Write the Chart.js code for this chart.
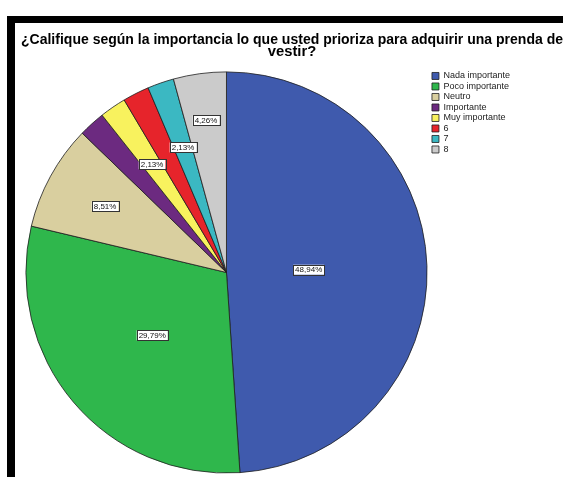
<!DOCTYPE html>
<html>
<head>
<meta charset="utf-8">
<script src="https://cdn.jsdelivr.net/npm/chart.js@4"></script>
<style>
  body { margin: 0; background: #fff; width: 563px; height: 477px; overflow: hidden; position: relative; }
  #frameLeft { position: absolute; left: 7px; top: 16px; width: 8px; height: 461px; background: #000; }
  #frameTop { position: absolute; left: 7px; top: 16px; width: 556px; height: 7px; background: #000; }
  #wrap { position: absolute; left: 15px; top: 23px; }
</style>
</head>
<body>
<div id="frameLeft"></div>
<div id="frameTop"></div>
<div id="wrap"><canvas id="pieChart" width="548" height="454"></canvas></div>
<script>
// Categorie e percentuali
const categories = ['Nada importante', 'Poco importante', 'Neutro', 'Importante', 'Muy importante', '6', '7', '8'];
const percents = [48.94, 29.79, 8.51, 2.13, 2.13, 2.13, 2.13, 4.26];
const sliceLabels = ['48,94%', '29,79%', '8,51%', null, '2,13%', null, '2,13%', '4,26%'];

const colors = ['#3f5aad', '#2fb74c', '#d9cf9f', '#6c2a80', '#f8f25e', '#e6242b', '#3bb8c2', '#cbcbcb'];
// distanza delle etichette dal centro (frazione del raggio)
const labelDist = [0.41, 0.485, 0.69, 0, 0.655, 0, 0.66, 0.765];

const FONT = "'Liberation Sans', Arial, sans-serif";

// Etichette in riquadro bianco sopra le fette
const boxLabels = {
  id: 'boxLabels',
  afterLayout(chart) {
    // titolo centrato su tutta la larghezza, legenda un po' più a destra
    const t = chart.titleBlock;
    t.left = 6; t.right = chart.width; t.width = t.right - t.left;
    chart.legend.left += 3; chart.legend.right += 3;
    chart.legend.top -= 1.5; chart.legend.bottom -= 1.5;
  },
  afterDatasetsDraw(chart) {
    const ctx = chart.ctx;
    const arcs = chart.getDatasetMeta(0).data;
    ctx.save();
    ctx.font = '8px ' + FONT;
    ctx.textAlign = 'center';
    ctx.textBaseline = 'middle';
    arcs.forEach((arc, i) => {
      if (!sliceLabels[i]) return;
      const mid = (arc.startAngle + arc.endAngle) / 2;
      const r = arc.outerRadius * labelDist[i];
      const x = arc.x + Math.cos(mid) * r;
      const y = arc.y + Math.sin(mid) * r;
      const w = ctx.measureText(sliceLabels[i]).width + 4;
      const h = 10;
      ctx.fillStyle = '#fff';
      ctx.fillRect(x - w / 2, y - h / 2, w, h);
      ctx.strokeStyle = '#333';
      ctx.lineWidth = 1;
      ctx.strokeRect(Math.round(x - w / 2) + 0.5, Math.round(y - h / 2) + 0.5, Math.round(w), h);
      ctx.fillStyle = '#111';
      ctx.fillText(sliceLabels[i], x, y + 0.5);
    });
    ctx.restore();
  }
};

const ctx = document.getElementById('pieChart').getContext('2d');
const pieChart = new Chart(ctx, {
  type: 'pie',
  data: {
    labels: categories,
    datasets: [{
      data: percents,
      backgroundColor: colors,
      borderColor: '#1e1e1e',
      borderWidth: 0.8
    }]
  },
  plugins: [boxLabels],
  options: {
    responsive: false,
    animation: false,
    layout: { padding: { left: 10.5, right: 46, top: 0, bottom: 3.5 } },
    plugins: {
      tooltip: { enabled: false },
      title: {
        display: true,
        text: ['¿Califique según la importancia lo que usted prioriza para adquirir una prenda de', 'vestir?'],
        color: '#000',
        font: { family: FONT, size: 14.8, weight: 'bold', lineHeight: 0.82 },
        padding: { top: 11, bottom: 13.2 }
      },
      legend: {
        position: 'right',
        align: 'start',
        fullSize: false,
        labels: {
          color: '#222',
          boxWidth: 7,
          boxHeight: 7,
          padding: 1.5,
          font: { family: FONT, size: 9 }
        }
      }
    }
  }
});
</script>
</body>
</html>
